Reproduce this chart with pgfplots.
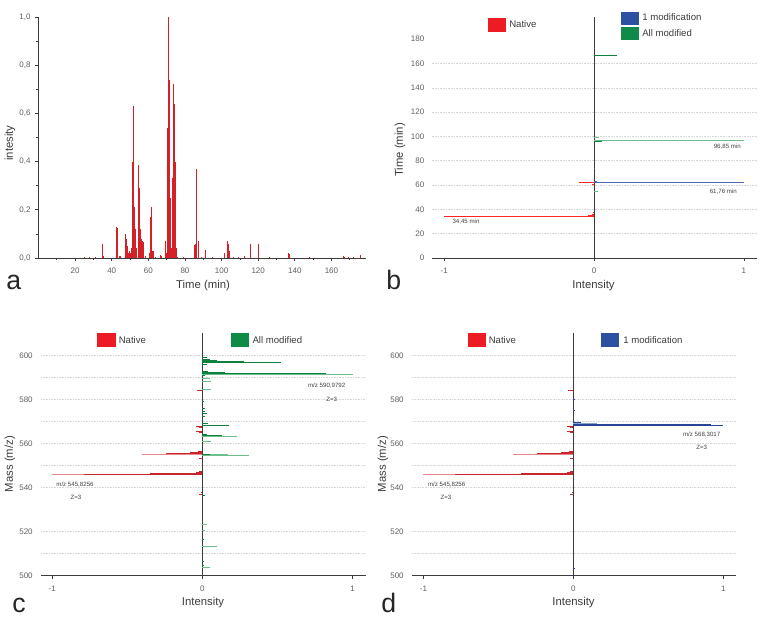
\documentclass[border=0pt]{standalone}
\usepackage{pgfplots}
\pgfplotsset{compat=1.18}
\usepackage{fontspec}
\setmainfont{Liberation Sans}
\definecolor{ared}{RGB}{214,32,40}
\definecolor{lred}{RGB}{234,135,138}
\definecolor{dred}{RGB}{200,38,46}
\definecolor{lgred}{RGB}{237,28,36}
\definecolor{dgreen}{RGB}{14,128,62}
\definecolor{lgreen}{RGB}{110,190,140}
\definecolor{lggreen}{RGB}{16,138,72}
\definecolor{dblue}{RGB}{40,70,150}
\definecolor{lblue}{RGB}{140,160,205}
\definecolor{lgblue}{RGB}{45,80,160}
\definecolor{tickgray}{RGB}{95,95,95}
\definecolor{axgray}{RGB}{60,60,60}
\definecolor{gridgray}{RGB}{215,215,215}
\def\px#1#2{({(#1)*0.75pt},{(624-(#2))*0.75pt})}

\pgfplotstableread{
t I
25 0.003
28 0.004
31 0.003
34.8 0.057
35.3 0.008
42.6 0.13
42.9 0.125
44.0 0.01
45.0 0.008
47.5 0.10
47.8 0.08
48.6 0.05
49.2 0.02
49.8 0.03
50.4 0.02
51.0 0.04
51.5 0.40
51.8 0.63
52.1 0.56
52.4 0.21
52.7 0.12
53.2 0.04
54.4 0.24
54.8 0.385
55.2 0.29
55.6 0.12
56.1 0.08
56.8 0.07
57.4 0.065
58.2 0.01
60.5 0.02
61.1 0.17
61.7 0.21
62.3 0.03
62.9 0.03
64 0.005
66.5 0.013
67.2 0.01
69.4 0.07
70.1 0.02
70.6 0.54
71.1 1.0
71.5 0.74
71.9 0.25
72.4 0.04
73.3 0.33
73.8 0.72
74.3 0.64
74.7 0.40
75.2 0.04
76 0.005
79 0.004
85.1 0.055
85.5 0.06
86.0 0.37
86.5 0.12
87.1 0.07
87.6 0.01
89 0.005
91.4 0.035
95 0.003
101.8 0.02
103.3 0.07
103.8 0.06
104.3 0.03
106.5 0.005
109 0.004
112.3 0.01
115.6 0.06
120.2 0.06
126 0.003
136.4 0.02
136.8 0.015
148 0.003
166.4 0.008
167 0.005
169.5 0.004
172 0.003
175.7 0.012
}\tabA

\pgfplotstableread{
x y
-1.0 34.45
-0.04 35.3
-0.015 36.2
-0.006 37.5
-0.012 60.3
-0.10 62.0
}\tabBred
\pgfplotstableread{
x y
1.0 61.76
0.02 62.6
0.006 73.8
}\tabBblue
\pgfplotstableread{
x y
1.0 96.85
0.03 99.4
0.024 54.6
}\tabBlgreen
\pgfplotstableread{
x y
0.053 96.1
0.153 166.3
}\tabBdgreen

\pgfplotstableread{
x y
-1.0 545.7
-0.40 555.2
}\tabNatL
\pgfplotstableread{
x y
-0.79 545.9
-0.35 546.2
-0.14 546.5
-0.04 546.9
-0.02 547.3
-0.24 555.6
-0.08 556.0
-0.03 556.4
-0.02 553.4
-0.02 537.0
-0.01 537.8
-0.04 567.6
-0.02 567.1
-0.045 565.4
-0.02 564.8
-0.033 584.0
}\tabNatD

\pgfplotstableread{
x y
1.0 591.5
0.31 554.5
0.17 554.8
0.23 563.1
0.06 588.4
0.05 589.5
0.06 584.6
0.06 560.8
0.097 513.1
0.05 503.6
0.03 523.4
0.02 520.4
}\tabCL
\pgfplotstableread{
x y
0.82 591.7
0.415 592.0
0.15 592.3
0.04 592.7
0.02 590.8
0.52 596.9
0.28 597.3
0.10 597.7
0.05 598.3
0.03 599.2
0.03 595.8
0.18 568.4
0.04 568.9
0.13 563.5
0.03 563.9
0.05 555.0
0.01 579
0.02 576
0.02 574.5
0.03 573.7
0.02 572.2
0.02 536.6
0.01 516.6
0.01 506.3
0.01 504.8
}\tabCD

\pgfplotstableread{
x y
1.0 568.3
0.92 568.5
0.45 568.7
0.05 569.4
0.01 580
0.01 575
0.01 503
}\tabDD
\pgfplotstableread{
x y
0.16 569.1
}\tabDL

\pgfplotsset{
  panel/.style={scale only axis, clip=false, anchor=south west,
    axis line style={axgray, line width=0.6pt, -},
    tick label style={font=\fontsize{6}{7}\selectfont, text=tickgray},
    /pgf/number format/assume math mode=true,
    tick style={axgray, line width=0.5pt}, tick align=outside,
    major tick length=2.5pt, minor tick length=1.5pt,
    axis x line*=bottom, axis y line*=left},
  mirror/.style={panel, y axis line style={draw=none}, ytick style={draw=none},
    xmin=-1.08, xmax=1.085, xtick={-1,0,1},
    yminorgrids, minor grid style={gridgray, dash pattern=on 1.2pt off 0.8pt, line width=0.45pt},
    minor tick length=0pt,
    xticklabel style={yshift=-1.5pt}},
}

\begin{document}
\begin{tikzpicture}
\path[use as bounding box] (0,0) rectangle (573.75pt,468pt);

% ---------- panel a
\begin{axis}[panel, at={(28.875pt,274.5pt)}, width=245.8pt, height=180.75pt,
  xmin=0, xmax=179, ymin=0, ymax=1,
  xtick={20,40,60,80,100,120,140,160}, minor xtick={10,30,50,70,90,110,130,150,170},
  ytick={0,0.2,0.4,0.6,0.8,1}, minor ytick={0.1,0.3,0.5,0.7,0.9},
  yticklabel style={/pgf/number format/.cd, fixed, fixed zerofill, precision=1, use comma},
  xticklabel style={yshift=-1.5pt}]
\addplot[ycomb, ared, line width=0.6pt] table[x=t, y=I] {\tabA};
\end{axis}

% ---------- panel b
\begin{axis}[mirror, at={(324.225pt,274.5pt)}, width=243.3pt, height=180.5pt,
  ymin=0, ymax=198, ytick={0,20,...,180}, minor ytick={20,40,...,160}]
\draw[axgray, line width=0.6pt] (axis cs:0,0) -- (axis cs:0,198);
\addplot[xcomb, red!85!white, line width=0.7pt] table {\tabBred};
\addplot[xcomb, lgblue!85!white, line width=0.7pt] table {\tabBblue};
\addplot[xcomb, lgreen, line width=0.7pt] table {\tabBlgreen};
\addplot[xcomb, dgreen, line width=0.7pt] table {\tabBdgreen};
\end{axis}

% ---------- panel c
\begin{axis}[mirror, at={(30.525pt,36.375pt)}, width=243.75pt, height=181.6pt,
  xmin=-1.077, xmax=1.087, ymin=500, ymax=610, ytick={500,520,...,600},
  minor ytick={510,520,540,550,560,570,580,590,600}]
\draw[axgray, line width=0.6pt] (axis cs:0,500) -- (axis cs:0,610);
\addplot[xcomb, lred, line width=0.6pt] table {\tabNatL};
\addplot[xcomb, dred, line width=0.6pt] table {\tabNatD};
\addplot[xcomb, lgreen, line width=0.6pt] table {\tabCL};
\addplot[xcomb, dgreen, line width=0.6pt] table {\tabCD};
\end{axis}

% ---------- panel d
\begin{axis}[mirror, at={(308.775pt,36.375pt)}, width=243.2pt, height=181.6pt,
  xmin=-1.078, xmax=1.085, ymin=500, ymax=610, ytick={500,520,...,600},
  minor ytick={510,520,540,550,560,570,580,590,600}]
\draw[axgray, line width=0.6pt] (axis cs:0,500) -- (axis cs:0,610);
\addplot[xcomb, lred, line width=0.6pt] table {\tabNatL};
\addplot[xcomb, dred, line width=0.6pt] table {\tabNatD};
\addplot[xcomb, lblue, line width=0.6pt] table {\tabDL};
\addplot[xcomb, dblue, line width=0.6pt] table {\tabDD};
\end{axis}

% ---------- axis labels
\begin{scope}[every node/.style={font=\fontsize{8.5}{9}\selectfont, text=axgray, inner sep=0pt}]
\node[rotate=90] at \px{10}{143} {intesity};
\node at \px{203}{285.5} {Time (min)};
\node[rotate=90] at \px{400}{150} {Time (min)};
\node at \px{593.5}{285.5} {Intensity};
\node[rotate=90] at \px{10}{464} {Mass (m/z)};
\node at \px{203}{603} {Intensity};
\node[rotate=90] at \px{383}{464} {Mass (m/z)};
\node at \px{573.5}{603} {Intensity};
\end{scope}

% ---------- panel letters
\begin{scope}[every node/.style={font=\fontsize{20}{20}\selectfont, text=black!85, inner sep=0pt, anchor=base west}]
\node at \px{6}{290} {a};
\node at \px{386}{290} {b};
\node at \px{12}{613} {c};
\node at \px{381}{613} {d};
\end{scope}

% ---------- legends
\begin{scope}[every node/.style={font=\fontsize{7.2}{8}\selectfont, text=axgray, inner sep=0pt, anchor=west}]
\fill[lgred] \px{488.3}{18.3} rectangle \px{506}{31.7};
\node at \px{509}{24} {Native};
\fill[lgblue] \px{620.7}{11.7} rectangle \px{639}{25};
\node at \px{642}{17.5} {1 modification};
\fill[lggreen] \px{620.7}{26.7} rectangle \px{639}{40};
\node at \px{642}{33} {All modified};

\fill[lgred] \px{97.3}{333.3} rectangle \px{116}{346.7};
\node at \px{118.5}{340} {Native};
\fill[lggreen] \px{230.7}{333.3} rectangle \px{248.7}{346.7};
\node at \px{252.3}{340} {All modified};

\fill[lgred] \px{467.7}{333.3} rectangle \px{486}{347.3};
\node at \px{488.5}{340} {Native};
\fill[lgblue] \px{600.7}{333.3} rectangle \px{618.7}{347.3};
\node at \px{623}{340} {1 modification};
\end{scope}

% ---------- annotations
\begin{scope}[every node/.style={font=\fontsize{4.6}{5}\selectfont, text=black!75, inner sep=0pt}]
\node at \px{466}{221.7} {34,45 min};
\node at \px{723.3}{191.7} {61,76 min};
\node at \px{727.3}{146.7} {96,85 min};
\node at \px{326.7}{386} {m/z 590,9792};
\node at \px{331.7}{399} {Z=3};
\node at \px{75}{485} {m/z 545,8256};
\node at \px{76}{497.3} {Z=3};
\node at \px{701.7}{435} {m/z 568,3017};
\node at \px{701.7}{447} {Z=3};
\node at \px{446.7}{485} {m/z 545,8256};
\node at \px{446}{497.3} {Z=3};
\end{scope}
\end{tikzpicture}
\end{document}
